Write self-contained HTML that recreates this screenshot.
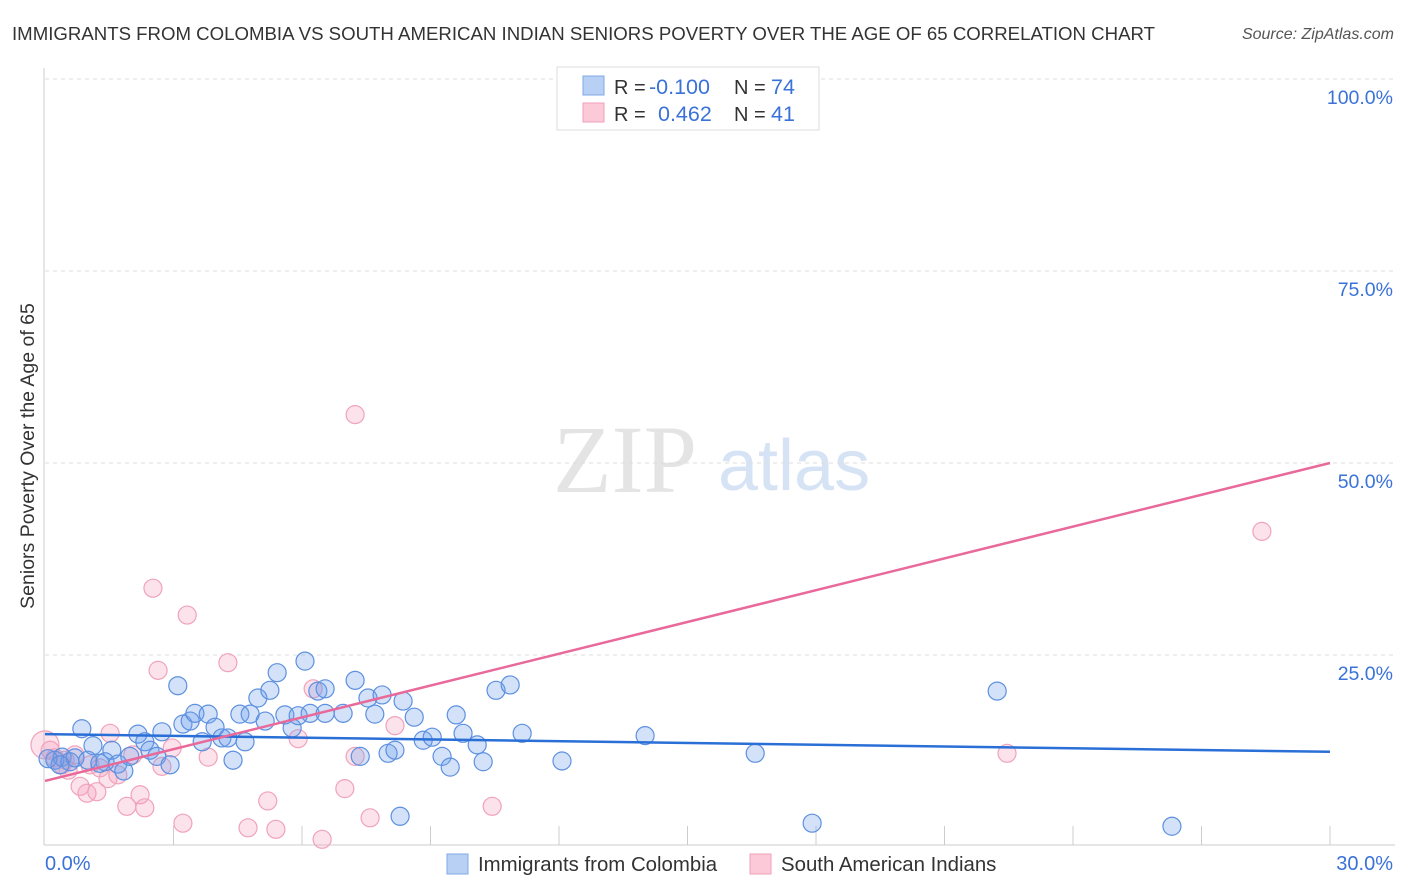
<!DOCTYPE html>
<html><head><meta charset="utf-8">
<style>
body{margin:0;background:#fff;font-family:"Liberation Sans",sans-serif;}
svg{display:block}
</style></head>
<body>
<svg id="chart" width="1406" height="892" xmlns="http://www.w3.org/2000/svg">
<text x="12" y="40" font-size="18.6" fill="#333" textLength="1143" lengthAdjust="spacingAndGlyphs">IMMIGRANTS FROM COLOMBIA VS SOUTH AMERICAN INDIAN SENIORS POVERTY OVER THE AGE OF 65 CORRELATION CHART</text>
<text x="1394" y="39" font-size="16" fill="#555" font-style="italic" text-anchor="end">Source: ZipAtlas.com</text>
<g>
<text x="553" y="492" font-size="96" font-family="Liberation Serif" fill="#e4e4e4">ZIP</text>
<text x="718" y="490" font-size="72" fill="#d6e3f5">atlas</text>
</g>
<g id="grid"></g>
<g id="axes"></g>
<text transform="translate(34,456) rotate(-90)" font-size="19.5" fill="#333" text-anchor="middle">Seniors Poverty Over the Age of 65</text>
<g id="points"></g>
<g id="trends"></g>
<g>
<rect x="557" y="67" width="262" height="63" fill="#fff" stroke="#ddd"/>
<rect x="583" y="76" width="21" height="19" fill="#b9d0f5" stroke="#7fa7e6"/>
<rect x="583" y="103" width="21" height="19" fill="#fbc9d8" stroke="#f0a0ba"/>
<g font-size="20" fill="#333">
<text x="614" y="94">R =</text>
<text x="649" y="94" font-size="21.5" fill="#3a72d8">-0.100</text>
<text x="734" y="94">N =</text>
<text x="771" y="94" font-size="21.5" fill="#3a72d8">74</text>
<text x="614" y="121">R =</text>
<text x="658" y="121" font-size="21.5" fill="#3a72d8">0.462</text>
<text x="734" y="121">N =</text>
<text x="771" y="121" font-size="21.5" fill="#3a72d8">41</text>
</g>
</g>
<g>
<rect x="447" y="854" width="21" height="20" fill="#b9d0f5" stroke="#7fa7e6"/>
<text x="478" y="871" font-size="20.4" fill="#333">Immigrants from Colombia</text>
<rect x="750" y="854" width="21" height="20" fill="#fbc9d8" stroke="#f0a0ba"/>
<text x="781" y="871" font-size="20.4" fill="#333">South American Indians</text>
</g>
</svg>
<script>
const blueX=[0.23,0.40,0.58,0.70,0.86,1.00,1.12,1.28,1.40,1.56,1.70,1.84,1.98,2.17,2.33,2.45,2.61,2.73,2.92,3.10,3.22,3.39,3.50,3.67,3.81,3.97,4.13,4.27,4.39,4.55,4.67,4.79,4.97,5.14,5.25,5.42,5.60,5.77,5.91,6.07,6.19,6.37,6.54,6.54,6.96,7.24,7.36,7.54,7.70,7.87,8.01,8.17,8.29,8.36,8.62,8.83,9.04,9.27,9.46,9.60,9.76,10.09,10.23,10.53,10.86,11.14,12.07,14.01,16.58,17.91,22.23,26.31,0.07,0.35];
const blueY=[11.3,11.7,11.1,11.6,15.4,11.3,13.2,10.9,11.1,12.6,10.8,9.9,11.8,14.7,13.7,12.6,11.8,15.0,10.7,21.0,16.0,16.4,17.4,13.7,17.3,15.6,14.2,14.2,11.3,17.3,13.7,17.3,19.4,16.4,20.4,22.7,17.2,15.5,17.1,24.2,17.4,20.3,20.6,17.4,17.4,21.7,11.8,19.4,17.3,19.8,12.2,12.6,4.0,19.0,16.9,13.9,14.3,11.8,10.4,17.2,14.8,13.3,11.1,20.4,21.1,14.8,11.2,14.5,12.2,3.1,20.3,2.7,11.5,10.7];
const pinkX=[0.12,0.23,0.40,0.54,0.82,0.98,1.21,1.28,1.47,1.52,1.70,1.91,2.05,2.22,2.33,2.52,2.64,2.73,2.97,3.22,3.32,3.81,4.27,4.74,5.20,5.39,5.91,6.26,6.47,7.00,7.24,7.24,7.59,8.17,10.44,22.46,28.41,0.47,0.70,1.05,0.00];
const pinkY=[12.6,11.6,10.7,10.0,7.9,7.0,7.2,10.3,8.9,14.8,9.4,5.3,12.0,6.8,5.1,33.7,23.0,10.5,12.9,3.1,30.2,11.7,24.0,2.5,6.0,2.3,14.1,20.6,1.0,7.6,56.3,11.8,3.8,15.8,5.3,12.2,41.1,11.3,12.0,10.7,13.3];
const blueTrend=[14.7,12.4];
const pinkTrend=[8.6,50.0];
const yTicks=[25,50,75,100];
const yTickLabels=["25.0%","50.0%","75.0%","100.0%"];
const xTicks=[0,3,6,9,12,15,18,21,24,27,30];
const xEnds=["0.0%","30.0%"];

const NS="http://www.w3.org/2000/svg";
const X0=45,X1=1330,YB=847,PX=7.68;
const sx=v=>X0+(v/30)*(X1-X0);
const sy=v=>YB-v*PX;
function mk(tag,attrs,parent){const e=document.createElementNS(NS,tag);for(const k in attrs)e.setAttribute(k,attrs[k]);parent.appendChild(e);return e;}
const grid=document.getElementById('grid'),axes=document.getElementById('axes'),pts=document.getElementById('points'),tr=document.getElementById('trends');
yTicks.forEach((t,i)=>{
 const l=mk('line',{x1:X0,x2:1395,y1:sy(t),y2:sy(t),stroke:'#ddd','stroke-dasharray':'4,4'},grid);
 
 
 const tx=mk('text',{x:1393,y:sy(t)+25,'font-size':19.5,fill:'#3a72d8','text-anchor':'end'},axes);
 tx.textContent=yTickLabels[i];
 
 
});
let a=mk('line',{x1:44,x2:44,y1:68,y2:845,stroke:'#ccc'},axes);


a=mk('line',{x1:44,x2:1395,y1:845,y2:845,stroke:'#ccc'},axes);


xTicks.slice(1).forEach(t=>{
 const l=mk('line',{x1:sx(t),x2:sx(t),y1:826,y2:845,stroke:'#ccc'},axes);
 
 
});
let t1=mk('text',{x:45,y:870,'font-size':20,fill:'#3a72d8'},axes);t1.textContent=xEnds[0];


let t2=mk('text',{x:1393,y:870,'font-size':20,fill:'#3a72d8','text-anchor':'end'},axes);t2.textContent=xEnds[1];


pinkX.forEach((x,i)=>{
 const c=mk('circle',{cx:sx(x),cy:sy(pinkY[i]),r:(x===0?14:9),fill:'rgba(245,160,188,0.3)',stroke:'#f0a3bb','stroke-width':1.2},pts);
 
 
});
blueX.forEach((x,i)=>{
 const c=mk('circle',{cx:sx(x),cy:sy(blueY[i]),r:9,fill:'rgba(110,160,235,0.3)',stroke:'#5d90e0','stroke-width':1.2},pts);
 
 
});
let bl=mk('line',{x1:sx(0),x2:sx(30),y1:sy(blueTrend[0]),y2:sy(blueTrend[1]),stroke:'#2a6fd6','stroke-width':2.5},tr);


let pl=mk('line',{x1:sx(0),x2:sx(30),y1:sy(pinkTrend[0]),y2:sy(pinkTrend[1]),stroke:'#e8699a','stroke-width':2.5},tr);


</script>
</body></html>
